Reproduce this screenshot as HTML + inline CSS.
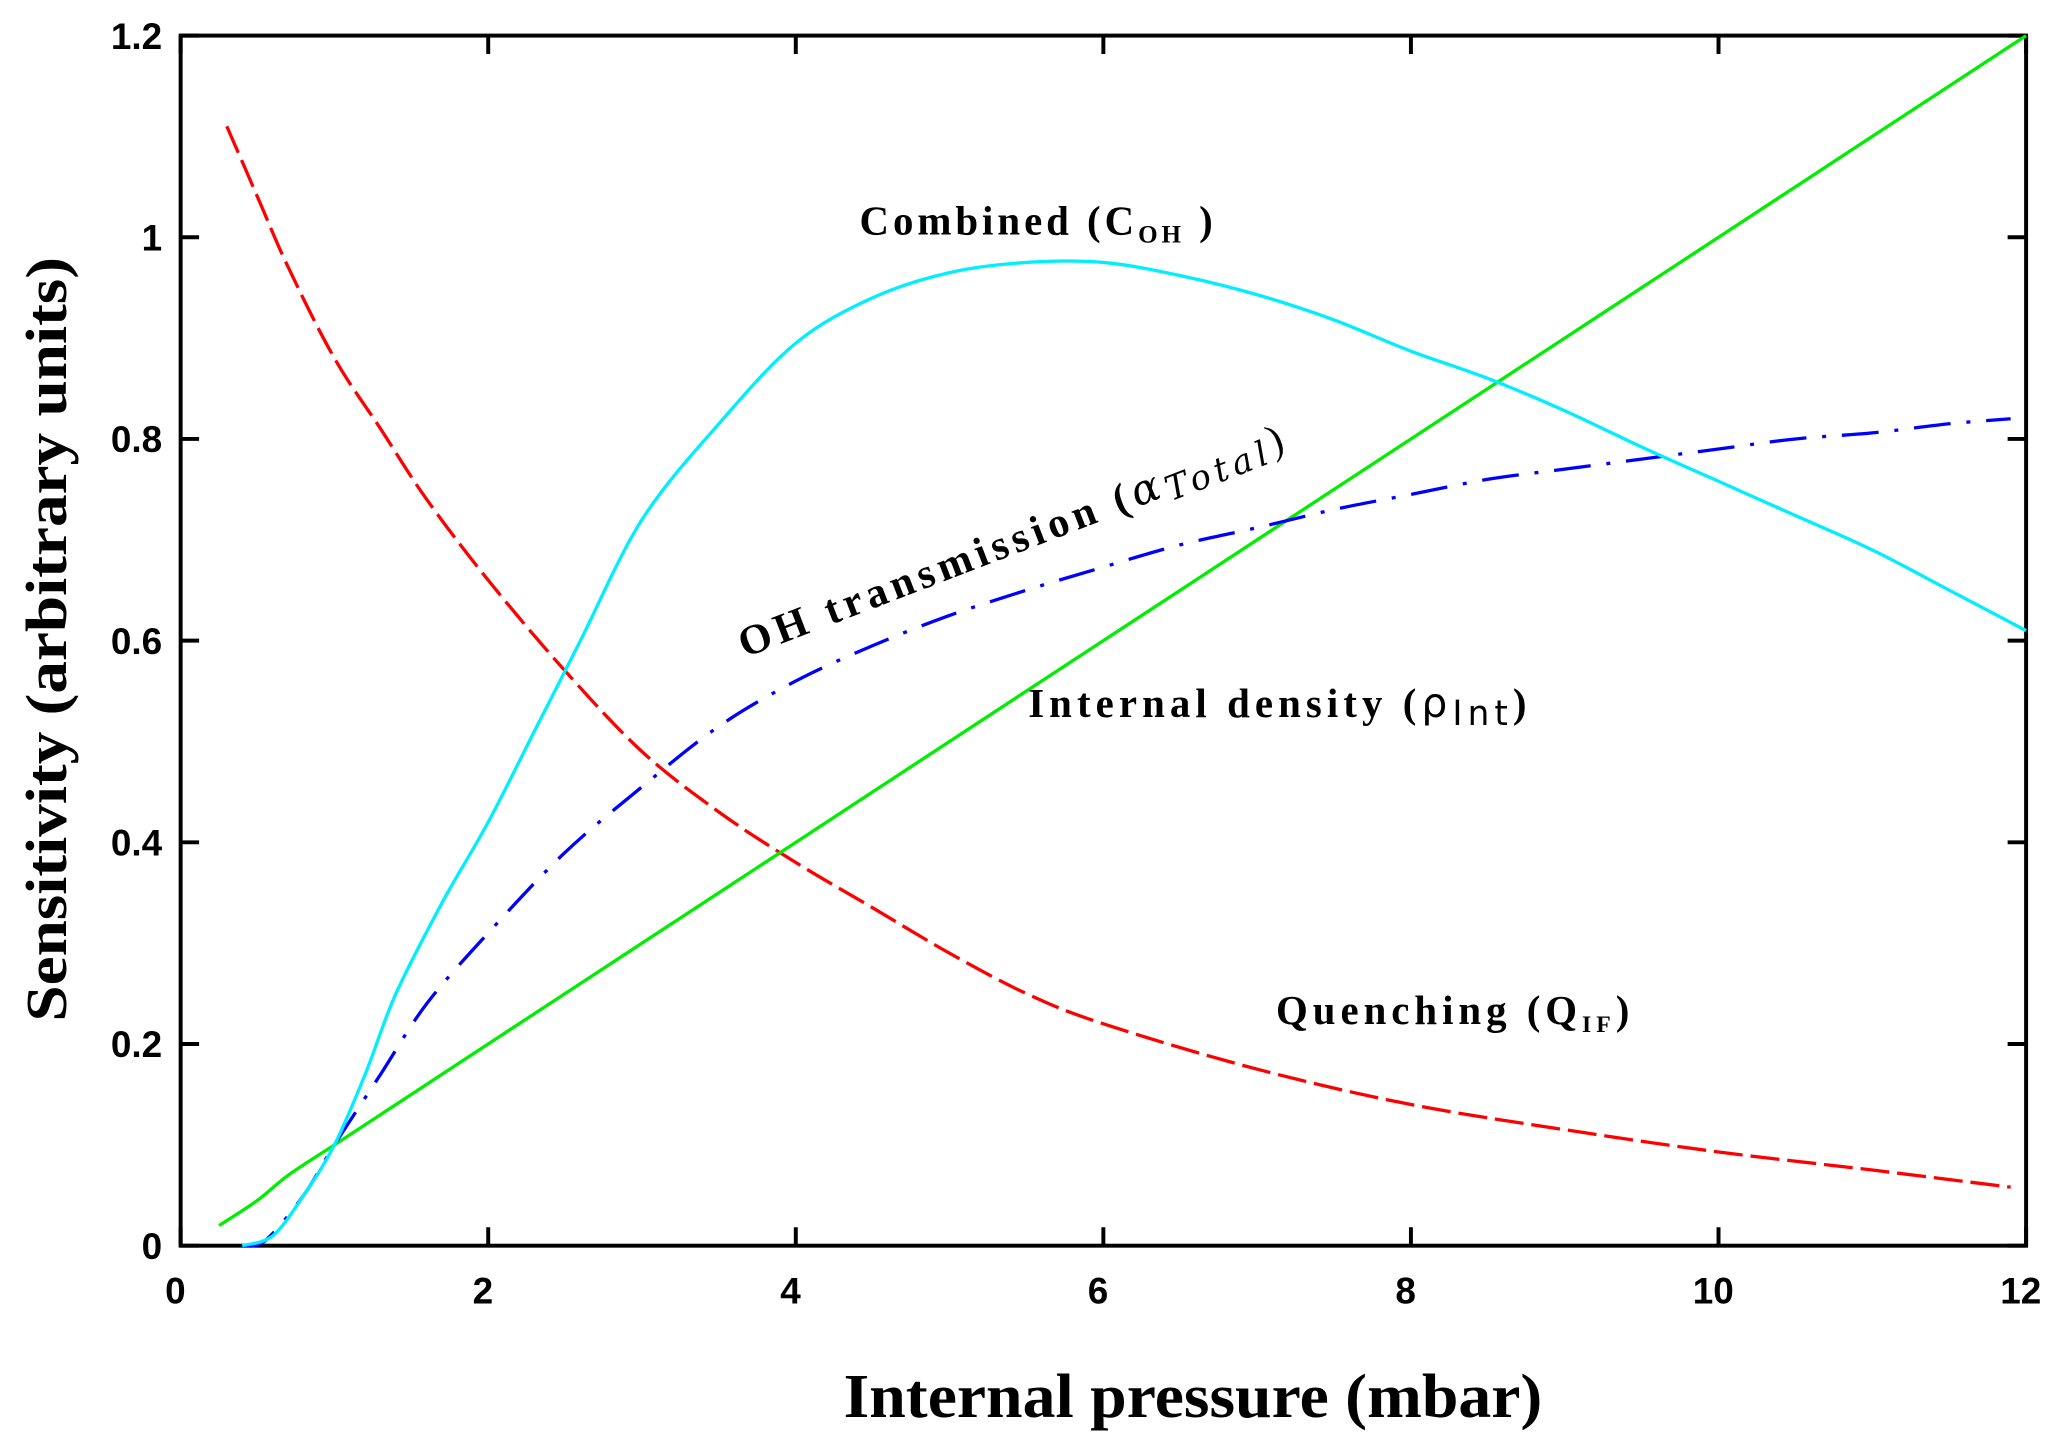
<!DOCTYPE html>
<html><head><meta charset="utf-8"><style>
html,body{margin:0;padding:0;background:#fff;}
svg{display:block;}
.tk{font-family:"Liberation Sans",sans-serif;font-size:28px;font-weight:bold;fill:#000;}
.lb{font-family:"Liberation Serif",serif;font-weight:bold;fill:#000;}
</style></head><body>
<svg id="chart" width="2067" height="1450" viewBox="0 0 1568 1100" xmlns="http://www.w3.org/2000/svg">
<rect x="137" y="27" width="1400" height="918" fill="none" stroke="#000" stroke-width="3"/>
<g id="ticks"></g>
<g id="series"></g>
<text class="lb" x="652" y="178" font-size="31" textLength="268" lengthAdjust="spacing">Combined  (C<tspan font-size="19" dy="6">OH</tspan><tspan dy="-6"> )</tspan></text>
<text class="lb" x="0" y="0" font-size="32" textLength="440" lengthAdjust="spacing" transform="translate(565,499) rotate(-21)">OH  transmission  (<tspan font-weight="normal" font-style="italic" font-family="DejaVu Serif, serif">α<tspan font-size="26" dy="5">Total</tspan></tspan><tspan dy="-5" font-weight="normal">)</tspan></text>
<text class="lb" x="780" y="544" font-size="31" textLength="378" lengthAdjust="spacing">Internal  density  (<tspan font-weight="normal" font-family="DejaVu Sans, sans-serif">ρ<tspan font-size="26" dy="6">Int</tspan></tspan><tspan dy="-6">)</tspan></text>
<text class="lb" x="968" y="777" font-size="31" textLength="268" lengthAdjust="spacing">Quenching  (Q<tspan font-size="18" dy="6">IF</tspan><tspan dy="-6">)</tspan></text>
<text class="lb" x="640" y="1075" font-size="47" textLength="530" lengthAdjust="spacingAndGlyphs">Internal pressure (mbar)</text>
<text class="lb" x="0" y="0" font-size="44" textLength="580" lengthAdjust="spacingAndGlyphs" transform="translate(50,775) rotate(-90)">Sensitivity (arbitrary units)</text>
</svg>
<script>
const xTicks=[0,2,4,6,8,10,12];
const yTicks=[0,0.2,0.4,0.6,0.8,1,1.2];
const yTickLabels=["0","0.2","0.4","0.6","0.8","1","1.2"];
const qX=[0.3,0.5,0.7,1,1.3,1.6,2,2.5,3,3.5,4,4.5,5,5.5,6,7,8,9,10,11,11.9];
const qY=[1.11,1.04,0.97,0.88,0.81,0.74,0.66,0.57,0.49,0.43,0.38,0.335,0.29,0.25,0.22,0.175,0.14,0.115,0.093,0.075,0.058];
const cX=[0.4,0.6,0.8,1,1.2,1.4,1.7,2,2.3,2.6,3,3.5,4,4.5,5,5.5,6,6.5,7,7.5,8,8.5,9,9.5,10,10.5,11,11.5,12];
const cY=[0,0.01,0.05,0.1,0.17,0.25,0.34,0.42,0.51,0.6,0.72,0.815,0.895,0.94,0.965,0.975,0.975,0.962,0.943,0.918,0.887,0.86,0.828,0.792,0.758,0.724,0.69,0.65,0.61];
const gX=[0.25,0.5,0.7,1,1.5,2,3,4,5,6,7,8,9,10,11,12];
const gY=[0.02,0.045,0.07,0.1,0.15,0.2,0.3,0.4,0.5,0.6,0.7,0.8,0.9,1.0,1.1,1.2];
const bX=[0.4,0.55,0.8,1,1.3,1.6,2,2.5,3,3.5,4,4.5,5,5.5,6,6.5,7,7.5,8,8.5,9,9.5,10,10.5,11,11.5,11.9];
const bY=[0,0.005,0.05,0.1,0.17,0.24,0.31,0.39,0.455,0.515,0.56,0.595,0.625,0.65,0.673,0.695,0.712,0.73,0.745,0.76,0.77,0.78,0.79,0.8,0.806,0.815,0.82];
const X0=137,X1=1537,Y0=945,Y1=27;
function sx(v){return X0+(v/12)*(X1-X0);}
function sy(v){return Y0-(v/1.2)*(Y0-Y1);}
const NS="http://www.w3.org/2000/svg";
const tg=document.getElementById('ticks');
xTicks.forEach((t,i)=>{
  const x=sx(t);
  const a=document.createElementNS(NS,'path');
  a.setAttribute('d',`M${x},${Y0}v-14M${x},${Y1}v14`);
  a.setAttribute('stroke','#000');a.setAttribute('stroke-width','3');
  
  
  tg.appendChild(a);
  const l=document.createElementNS(NS,'text');
  l.setAttribute('x',x-4);l.setAttribute('y',Y0+44);l.setAttribute('text-anchor','middle');l.setAttribute('class','tk');
  l.textContent=String(t);
  
  
  tg.appendChild(l);
});
yTicks.forEach((t,i)=>{
  const y=sy(t);
  const a=document.createElementNS(NS,'path');
  a.setAttribute('d',`M${X0},${y}h14M${X1},${y}h-14`);
  a.setAttribute('stroke','#000');a.setAttribute('stroke-width','3');
  
  
  tg.appendChild(a);
  const l=document.createElementNS(NS,'text');
  l.setAttribute('x',X0-14);l.setAttribute('y',y+10);l.setAttribute('text-anchor','end');l.setAttribute('class','tk');
  l.textContent=yTickLabels[i];
  
  
  tg.appendChild(l);
});
const sg=document.getElementById('series');
function line(xs,ys,color,dash,name){
  const p=document.createElementNS(NS,'path');
  const pts=xs.map((x,i)=>[sx(x),sy(ys[i])]);
  let d='M'+pts[0][0].toFixed(1)+','+pts[0][1].toFixed(1);
  for(let i=0;i<pts.length-1;i++){
    const p0=pts[Math.max(0,i-1)],p1=pts[i],p2=pts[i+1],p3=pts[Math.min(pts.length-1,i+2)];
    const c1=[p1[0]+(p2[0]-p0[0])/6,p1[1]+(p2[1]-p0[1])/6];
    const c2=[p2[0]-(p3[0]-p1[0])/6,p2[1]-(p3[1]-p1[1])/6];
    d+=`C${c1[0].toFixed(1)},${c1[1].toFixed(1)} ${c2[0].toFixed(1)},${c2[1].toFixed(1)} ${p2[0].toFixed(1)},${p2[1].toFixed(1)}`;
  }
  p.setAttribute('d',d);p.setAttribute('fill','none');p.setAttribute('stroke',color);p.setAttribute('stroke-width','2.5');
  if(dash)p.setAttribute('stroke-dasharray',dash);
  
  
  sg.appendChild(p);
}
line(qX,qY,'#ff0000','22,6','quenching-line');
line(gX,gY,'#00ee00',null,'internal-density-line');
line(bX,bY,'#0000ff','28,12,3,12','oh-transmission-line');
line(cX,cY,'#00eeff',null,'combined-line');
</script>
</body></html>
